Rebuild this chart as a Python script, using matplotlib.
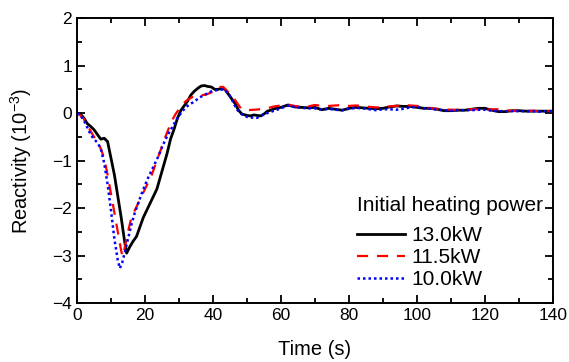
import matplotlib
matplotlib.use('Agg')
import matplotlib.pyplot as plt
from matplotlib.ticker import MultipleLocator

plt.rcParams['font.family'] = ['Liberation Sans', 'DejaVu Sans']
plt.rcParams['mathtext.default'] = 'regular'

# 13.0 kW
t_13 = [0, 1, 2, 3, 4, 5, 6, 7, 8, 9, 10, 11, 12, 13, 14, 14.6, 15.5, 16.5, 17.5, 18.5,
        19.5, 20.5, 21.5, 22.5, 23.5, 24.5, 25.5, 26.5, 27.5, 28.5, 29.5, 30.5, 31.5, 32.5,
        33.5, 34.5, 35.5, 36.5, 37.5, 38.5, 39.5, 40.5, 41.5, 42.5, 43.5, 44.5, 45.5, 46.5,
        47.5, 48.5, 50, 51, 52, 53, 54, 55, 56, 57, 58, 60, 62, 64, 66, 68, 70, 72, 74, 76,
        78, 80, 82, 84, 86, 88, 90, 92, 94, 96, 98, 100, 102, 104, 106, 108, 110, 112, 114,
        116, 118, 120, 122, 124, 126, 128, 130, 132, 134, 136, 138, 140]
r_13 = [0, -0.02, -0.1, -0.22, -0.28, -0.35, -0.45, -0.55, -0.53, -0.6, -0.95, -1.3, -1.75,
        -2.2, -2.7, -2.95, -2.82, -2.7, -2.6, -2.4, -2.2, -2.05, -1.9, -1.75, -1.6, -1.35,
        -1.1, -0.85, -0.55, -0.35, -0.12, 0.05, 0.15, 0.25, 0.38, 0.46, 0.52, 0.57, 0.58,
        0.56, 0.55, 0.5, 0.5, 0.52, 0.5, 0.4, 0.3, 0.2, 0.06, -0.02, -0.05, -0.06, -0.04,
        -0.05, -0.06, -0.02, 0.04, 0.06, 0.09, 0.12, 0.17, 0.13, 0.12, 0.11, 0.12, 0.07, 0.1,
        0.08, 0.06, 0.1, 0.12, 0.11, 0.1, 0.09, 0.1, 0.13, 0.15, 0.14, 0.14, 0.12, 0.1, 0.1,
        0.08, 0.05, 0.05, 0.06, 0.06, 0.08, 0.1, 0.1, 0.06, 0.03, 0.03, 0.05, 0.05, 0.04,
        0.04, 0.04, 0.04, 0.04]

# 11.5 kW
t_115 = [0, 1, 2, 3, 4, 5, 6, 7, 8, 9, 10, 11, 12, 13, 13.4, 14, 15, 16, 17, 18, 19, 20,
         21, 22, 23, 24, 25, 26, 27, 28, 29, 30, 31, 32, 33, 34, 35, 36, 37, 38, 39, 40, 41,
         42, 43, 44, 45, 46, 47, 48, 49, 50, 52, 54, 56, 58, 60, 62, 64, 66, 68, 70, 72, 74,
         76, 78, 80, 82, 84, 86, 88, 90, 92, 94, 96, 98, 100, 102, 104, 106, 108, 110, 112,
         114, 116, 118, 120, 122, 124, 126, 128, 130, 132, 134, 136, 138, 140]
r_115 = [0, -0.05, -0.12, -0.25, -0.38, -0.5, -0.6, -0.75, -0.95, -1.3, -1.7, -2.1, -2.5,
         -2.9, -3.02, -2.85, -2.5, -2.2, -2.05, -1.9, -1.75, -1.6, -1.45, -1.3, -1.1, -0.9,
         -0.7, -0.5, -0.32, -0.15, -0.02, 0.08, 0.18, 0.25, 0.3, 0.34, 0.35, 0.37, 0.38, 0.39,
         0.42, 0.45, 0.5, 0.55, 0.55, 0.48, 0.4, 0.33, 0.22, 0.12, 0.06, 0.06, 0.07, 0.08,
         0.1, 0.14, 0.16, 0.18, 0.15, 0.13, 0.14, 0.17, 0.15, 0.15, 0.16, 0.17, 0.15, 0.16,
         0.15, 0.13, 0.12, 0.12, 0.14, 0.15, 0.17, 0.16, 0.15, 0.12, 0.1, 0.09, 0.08, 0.07,
         0.07, 0.07, 0.08, 0.08, 0.07, 0.08, 0.08, 0.06, 0.05, 0.05, 0.04, 0.05, 0.04, 0.04,
         0.04]

# 10.0 kW
t_10 = [0, 1, 2, 3, 4, 5, 6, 7, 8, 9, 10, 11, 12, 12.6, 13.3, 14, 15, 16, 17, 18, 19, 20,
        21, 22, 23, 24, 25, 26, 27, 28, 29, 30, 31, 32, 33, 34, 35, 36, 37, 38, 39, 40, 41,
        42, 43, 44, 45, 46, 47, 48, 49, 50, 51, 52, 53, 54, 55, 56, 58, 60, 62, 64, 66, 68,
        70, 72, 74, 76, 78, 80, 82, 84, 86, 88, 90, 92, 94, 96, 98, 100, 102, 104, 106, 108,
        110, 112, 114, 116, 118, 120, 122, 124, 126, 128, 130, 132, 134, 136, 138, 140]
r_10 = [0, -0.05, -0.15, -0.3, -0.45, -0.55, -0.62, -0.75, -1.05, -1.5, -2.05, -2.65, -3.1,
        -3.27, -3.15, -2.95, -2.65, -2.35, -2.1, -1.9, -1.7, -1.52, -1.35, -1.2, -1.05, -0.9,
        -0.72, -0.56, -0.42, -0.3, -0.17, -0.06, 0.04, 0.12, 0.18, 0.22, 0.27, 0.32, 0.37,
        0.4, 0.44, 0.47, 0.48, 0.5, 0.49, 0.45, 0.36, 0.22, 0.08, 0.0, -0.05, -0.08, -0.1,
        -0.09, -0.1, -0.06, -0.03, 0.0, 0.05, 0.1, 0.16, 0.13, 0.11, 0.1, 0.1, 0.07, 0.09,
        0.07, 0.06, 0.09, 0.11, 0.1, 0.08, 0.06, 0.08, 0.08, 0.07, 0.09, 0.12, 0.13, 0.1,
        0.09, 0.07, 0.06, 0.05, 0.06, 0.06, 0.06, 0.07, 0.07, 0.05, 0.04, 0.04, 0.04, 0.04,
        0.04, 0.04, 0.03, 0.04, 0.04]

labels = ['13.0kW', '11.5kW', '10.0kW']

fig = plt.figure(figsize=(5.69, 3.62), dpi=100)
ax = fig.add_axes([0.1353, 0.163, 0.8366, 0.787])

ax.plot(t_13, r_13, color='black', lw=2.0, ls='-', label=labels[0])
ax.plot(t_115, r_115, color='red', lw=1.6, ls=(0, (5, 4)), label=labels[1])
ax.plot(t_10, r_10, color='blue', lw=1.8, ls=(0, (1, 1.2)), label=labels[2])

ax.set_xlim(0, 140)
ax.set_ylim(-4, 2)
ax.xaxis.set_major_locator(MultipleLocator(20))
ax.xaxis.set_minor_locator(MultipleLocator(10))
ax.yaxis.set_major_locator(MultipleLocator(1))
ax.yaxis.set_minor_locator(MultipleLocator(0.5))
ax.tick_params(which='both', direction='in', top=True, right=True, width=1.3, labelsize=12.5)
ax.tick_params(which='major', length=6)
ax.tick_params(which='minor', length=3.5)
for s in ax.spines.values():
    s.set_linewidth(1.4)

ax.set_xlabel('Time (s)', fontsize=14.5, labelpad=12)
ax.set_ylabel('Reactivity (10$^{-3}$)', fontsize=14.5, labelpad=13)

leg = ax.legend(title='Initial heating power', loc='lower right', bbox_to_anchor=(1.005, 0.005),
                frameon=False, fontsize=15, title_fontsize=15, handlelength=2.3,
                handletextpad=0.3, labelspacing=0.15, borderaxespad=0.2)
leg._legend_box.align = 'left'
leg._legend_box.sep = 8

fig.savefig('out.png', dpi=100)
